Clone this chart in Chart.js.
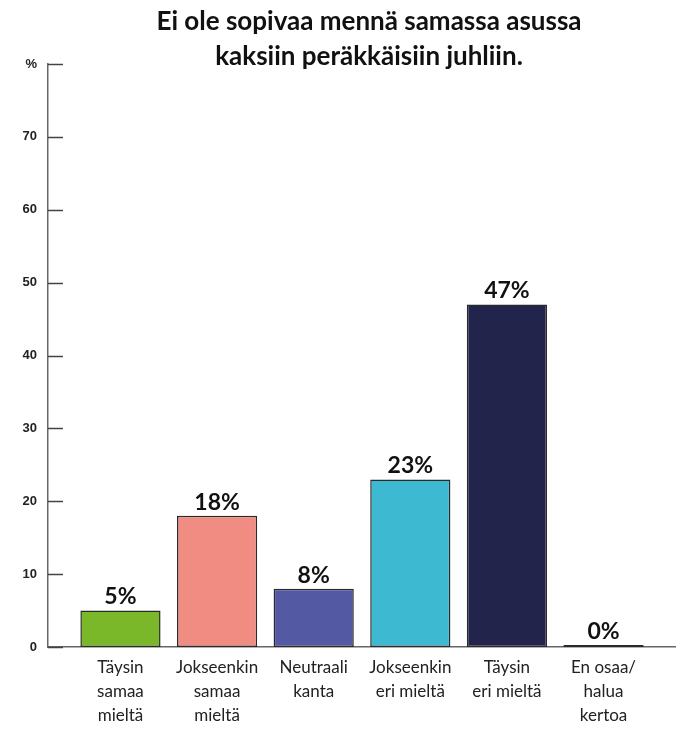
<!DOCTYPE html>
<html>
<head>
<meta charset="utf-8">
<script src="https://cdn.jsdelivr.net/npm/chart.js@4/dist/chart.umd.min.js"></script>
<style>
  html, body { margin: 0; padding: 0; background: #fff; }
  #wrap { width: 676px; height: 730px; }
</style>
</head>
<body>
<div id="wrap"><canvas id="myChart" width="676" height="730"></canvas></div>
<script>
const titleLines = ['Ei ole sopivaa mennä samassa asussa', 'kaksiin peräkkäisiin juhliin.']
const categories = [
    ['Täysin', 'samaa', 'mieltä'],
    ['Jokseenkin', 'samaa', 'mieltä'],
    ['Neutraali', 'kanta'],
    ['Jokseenkin', 'eri mieltä'],
    ['Täysin', 'eri mieltä'],
    ['En osaa/', 'halua', 'kertoa'],
]
const values = [5, 18, 8, 23, 47, 0]
const barColors = ['#7ab829', '#f08c82', '#5459a4', '#3dbad2', '#22244b', '#22244b']
const yTicks = [0, 10, 20, 30, 40, 50, 60, 70, 80]

const ctx = document.getElementById('myChart').getContext('2d')

// short tick marks pointing into the plot, value labels and the title
const extras = {
    id: 'extras',
    afterDraw(chart) {
        const c = chart.ctx
        const y = chart.scales.y
        const area = chart.chartArea
        c.save()
        c.strokeStyle = '#444'
        c.lineWidth = 1.5
        yTicks.forEach((t) => {
            const py = Math.round(y.getPixelForValue(t)) + 0.5
            c.beginPath()
            c.moveTo(area.left, py)
            c.lineTo(area.left + 15, py)
            c.stroke()
        })

        c.fillStyle = '#111'
        c.font = 'bold 23px Lato'
        c.textAlign = 'center'
        c.textBaseline = 'bottom'
        chart.getDatasetMeta(0).data.forEach((bar, i) => {
            c.fillText(values[i] + '%', bar.x, bar.y - 2)
        })

        c.font = 'bold 26px Lato'
        c.textBaseline = 'middle'
        titleLines.forEach((line, i) => {
            c.fillText(line, 369, 22 + i * 35)
        })
        c.restore()
    },
}

new Chart(ctx, {
    type: 'bar',
    data: {
        datasets: [
            {
                data: values.map((v, i) => ({ x: i, y: v })),
                backgroundColor: barColors,
                borderColor: '#2a2a2a',
                borderWidth: 1.5,
                borderSkipped: false,
                minBarLength: 2,
                barPercentage: 0.83,
                categoryPercentage: 1,
            },
        ],
    },
    options: {
        responsive: false,
        animation: false,
        layout: {
            padding: { top: 64, left: 0, right: 0, bottom: 0 },
        },
        plugins: {
            legend: { display: false },
            tooltip: { enabled: false },
        },
        scales: {
            x: {
                type: 'linear',
                offset: false,
                min: -0.75,
                max: 5.75,
                afterBuildTicks: (scale) => {
                    scale.ticks = categories.map((c, i) => ({ value: i }))
                },
                afterFit: (scale) => {
                    scale.height = 83
                },
                grid: { display: false, drawTicks: false, offset: false },
                border: { display: true, color: '#666', width: 1.5 },
                ticks: {
                    autoSkip: false,
                    maxRotation: 0,
                    padding: 9,
                    color: '#222',
                    font: { family: 'Lato', size: 17, lineHeight: 1.4 },
                    callback: (v) => categories[v],
                },
            },
            y: {
                min: 0,
                max: 80,
                afterBuildTicks: (scale) => {
                    scale.ticks = yTicks.map((v) => ({ value: v }))
                },
                afterFit: (scale) => {
                    scale.width = 48
                },
                grid: { display: false, drawTicks: false },
                border: { display: true, color: '#666', width: 1.5 },
                ticks: {
                    padding: 11,
                    color: '#222',
                    font: { family: 'Liberation Sans', size: 13, weight: 'bold' },
                    callback: (v) => (v === 80 ? '%' : v),
                },
            },
        },
    },
    plugins: [extras],
})
</script>
</body>
</html>
